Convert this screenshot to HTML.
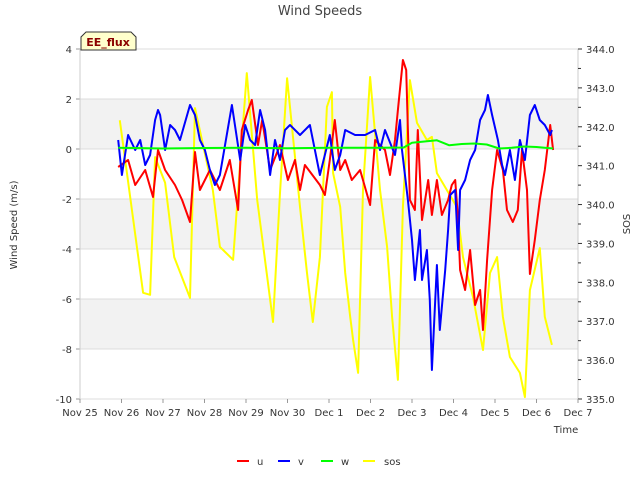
<!DOCTYPE html>
<html><head><meta charset="utf-8"><style>
body{margin:0;background:#fff;font-family:"Liberation Sans","DejaVu Sans",sans-serif}
text{font-family:"DejaVu Sans","Liberation Sans",sans-serif}
</style></head><body>
<svg id="c" width="640" height="480" xmlns="http://www.w3.org/2000/svg"></svg>
<script>
const xTickLabels=["Nov 25","Nov 26","Nov 27","Nov 28","Nov 29","Nov 30","Dec 1","Dec 2","Dec 3","Dec 4","Dec 5","Dec 6","Dec 7"];
const yTicks=[-10,-8,-6,-4,-2,0,2,4];
const y2Ticks=[335,336,337,338,339,340,341,342,343,344];
const uT=[0.92,1.16,1.33,1.57,1.76,1.88,2.05,2.29,2.46,2.65,2.77,2.89,3.13,3.37,3.61,3.81,3.90,4.05,4.14,4.29,4.39,4.58,4.82,5.01,5.18,5.30,5.42,5.78,5.90,6.02,6.14,6.27,6.39,6.55,6.75,6.99,7.11,7.35,7.47,7.59,7.66,7.78,7.86,7.95,8.07,8.14,8.24,8.39,8.48,8.60,8.72,8.87,8.96,9.04,9.11,9.16,9.28,9.40,9.52,9.64,9.71,9.81,9.93,10.05,10.19,10.29,10.43,10.55,10.65,10.77,10.84,10.96,11.08,11.20,11.33,11.40];
const uV=[-0.72,-0.44,-1.44,-0.84,-1.92,-0.04,-0.84,-1.44,-2.04,-2.92,-0.12,-1.64,-0.84,-1.64,-0.44,-2.44,0.76,1.56,1.96,0.16,1.16,-0.84,0.16,-1.24,-0.44,-1.64,-0.64,-1.44,-1.84,-0.44,1.16,-0.84,-0.44,-1.24,-0.84,-2.24,0.36,-0.04,-1.04,0.36,1.56,3.56,3.16,-2.04,-2.44,0.76,-2.84,-1.24,-2.64,-1.24,-2.64,-2.04,-1.44,-1.24,-2.84,-4.84,-5.64,-4.04,-6.24,-5.64,-7.24,-4.44,-1.64,-0.04,-0.84,-2.44,-2.92,-2.44,-0.04,-1.64,-5.0,-3.64,-2.04,-0.84,0.96,-0.04];
const vT=[0.92,1.01,1.16,1.33,1.45,1.57,1.69,1.81,1.88,1.93,2.05,2.17,2.29,2.41,2.65,2.77,2.89,3.01,3.13,3.25,3.37,3.66,3.86,3.98,4.10,4.22,4.34,4.46,4.58,4.70,4.82,4.94,5.06,5.30,5.54,5.78,6.02,6.14,6.27,6.39,6.63,6.87,7.11,7.23,7.35,7.59,7.71,7.76,7.90,8.00,8.07,8.19,8.24,8.36,8.43,8.48,8.60,8.67,8.80,8.87,8.92,9.04,9.11,9.16,9.28,9.40,9.52,9.64,9.76,9.83,9.93,10.07,10.17,10.24,10.36,10.48,10.60,10.72,10.84,10.96,11.08,11.20,11.33,11.37];
const vV=[0.36,-1.04,0.56,-0.04,0.36,-0.64,-0.24,1.16,1.56,1.36,-0.04,0.96,0.76,0.36,1.76,1.36,0.36,-0.04,-0.84,-1.44,-1.04,1.76,-0.44,0.96,0.36,0.16,1.56,0.76,-1.04,0.36,-0.44,0.76,0.96,0.56,0.96,-1.04,0.56,-0.84,-0.24,0.76,0.56,0.56,0.76,-0.04,0.76,-0.24,1.16,-0.04,-2.04,-3.64,-5.24,-3.24,-5.24,-4.04,-6.04,-8.84,-4.64,-7.24,-4.84,-3.24,-1.84,-1.64,-4.04,-1.64,-1.24,-0.44,-0.04,1.16,1.56,2.16,1.36,0.36,-0.64,-1.04,-0.04,-1.24,0.36,-0.44,1.36,1.76,1.16,0.96,0.56,0.76];
const wT=[0.92,2,3,4,5,6,7,7.8,8.0,8.3,8.6,8.9,9.2,9.5,9.8,10.1,10.4,10.7,11.0,11.4];
const wV=[0.05,0.02,0.04,0.05,0.03,0.05,0.05,0.06,0.25,0.3,0.35,0.15,0.2,0.22,0.18,0.02,0.05,0.1,0.08,0.02];
const sT=[0.96,1.52,1.69,1.81,2.05,2.27,2.65,2.77,3.20,3.37,3.69,4.02,4.27,4.51,4.65,4.82,4.99,5.30,5.47,5.61,5.78,5.95,6.07,6.10,6.27,6.39,6.51,6.58,6.70,6.82,6.99,7.23,7.40,7.52,7.66,7.78,7.95,8.12,8.36,8.48,8.60,9.08,9.23,9.47,9.71,9.88,10.05,10.19,10.36,10.60,10.72,10.84,11.08,11.20,11.37];
const sV=[342.17,337.73,337.68,341.22,340.56,338.65,337.60,342.48,340.38,338.91,338.58,343.38,340.12,338.14,336.98,340.30,343.25,339.94,338.24,336.98,338.65,342.51,342.89,340.81,339.94,338.24,337.11,336.52,335.67,340.38,343.28,340.38,338.91,337.11,335.49,339.94,343.20,342.10,341.66,341.74,340.81,339.94,338.65,337.62,336.26,338.24,338.65,337.11,336.08,335.67,335.05,337.80,338.88,337.11,336.39];

const L=80,R=578,T=49,B=399;
const X=t=>L+t*(R-L)/12;
const Y=v=>T+(4-v)*(B-T)/14;
const Y2=v=>T+(344-v)*(B-T)/9;
const svg=document.getElementById('c');
const NS='http://www.w3.org/2000/svg';
function mk(tag,attrs,parent){const e=document.createElementNS(NS,tag);for(const k in attrs)e.setAttribute(k,attrs[k]);(parent||svg).appendChild(e);return e;}

for(let i=0;i<yTicks.length-1;i++){
  if(i%2===1){const r=mk('rect',{x:L,y:Y(yTicks[i+1]),width:R-L,height:Y(yTicks[i])-Y(yTicks[i+1]),fill:'#f2f2f2'});
  
  }
}
yTicks.forEach(v=>{
  const g=mk('line',{x1:L,x2:R,y1:Y(v),y2:Y(v),stroke:'#dcdcdc','stroke-width':1});
  
  
  const tk=mk('line',{x1:L-4,x2:L,y1:Y(v),y2:Y(v),stroke:'#999'});
  
  
  const t=mk('text',{x:L-8,y:Y(v)+4,'text-anchor':'end','font-size':10,fill:'#333'});
  t.textContent=v;
  
  
});
mk('line',{x1:L,x2:L,y1:T,y2:B,stroke:'#ccc'});
mk('line',{x1:R,x2:R,y1:T,y2:B,stroke:'#ccc'});
y2Ticks.forEach((v,i)=>{
  const tk=mk('line',{x1:R,x2:R+4,y1:Y2(v),y2:Y2(v),stroke:'#333'});
  
  
  if(i<y2Ticks.length-1){const m=mk('line',{x1:R,x2:R+3,y1:Y2(v+0.5),y2:Y2(v+0.5),stroke:'#333'});
  
  }
  const t=mk('text',{x:R+8,y:Y2(v)+4,'font-size':10,fill:'#333'});
  t.textContent=v.toFixed(1);
  
  
});
xTickLabels.forEach((s,i)=>{
  const tk=mk('line',{x1:X(i),x2:X(i),y1:B,y2:B+4,stroke:'#999'});
  
  
  const t=mk('text',{x:X(i),y:B+17,'text-anchor':'middle','font-size':10,fill:'#333'});
  t.textContent=s;
  
  
});
function line(ts,vs,yf,color,name){
  const d=ts.map((t,i)=>(i?'L':'M')+X(t).toFixed(1)+','+yf(vs[i]).toFixed(1)).join('');
  const p=mk('path',{d:d,fill:'none',stroke:color,'stroke-width':2,'stroke-linejoin':'round'});
  
  
}
line(sT,sV,Y2,'#ffff00','series-sos');
line(uT,uV,Y,'#ff0000','series-u');
line(vT,vV,Y,'#0000ff','series-v');
line(wT,wV,Y,'#00ff00','series-w');
</script>
<svg width="640" height="480" style="position:absolute;left:0;top:0">
<text x="320" y="15" text-anchor="middle" font-size="13" fill="#444">Wind Speeds</text>
<text transform="translate(17,225) rotate(-90)" text-anchor="middle" font-size="10" fill="#333">Wind Speed (m/s)</text>
<text transform="translate(630,224) rotate(-90)" text-anchor="middle" font-size="10" fill="#333">SOS</text>
<text x="566" y="433" text-anchor="middle" font-size="10" fill="#333">Time</text>
<g>
<path d="M81,50 L81,37 L86,32 L131,32 L136,37 L136,50 Z" fill="#ffffcc" stroke="#333"/>
<text x="108" y="46" text-anchor="middle" font-size="11" font-weight="bold" fill="#8b0000">EE_flux</text>
</g>
<g>
<line x1="237" x2="249" y1="461" y2="461" stroke="#ff0000" stroke-width="2"/>
<text x="257" y="465" font-size="10" fill="#333">u</text>
<line x1="278" x2="290" y1="461" y2="461" stroke="#0000ff" stroke-width="2"/>
<text x="298" y="465" font-size="10" fill="#333">v</text>
<line x1="321" x2="333" y1="461" y2="461" stroke="#00ff00" stroke-width="2"/>
<text x="341" y="465" font-size="10" fill="#333">w</text>
<line x1="363" x2="375" y1="461" y2="461" stroke="#ffff00" stroke-width="2"/>
<text x="384" y="465" font-size="10" fill="#333">sos</text>
</g>
</svg>
</body></html>
